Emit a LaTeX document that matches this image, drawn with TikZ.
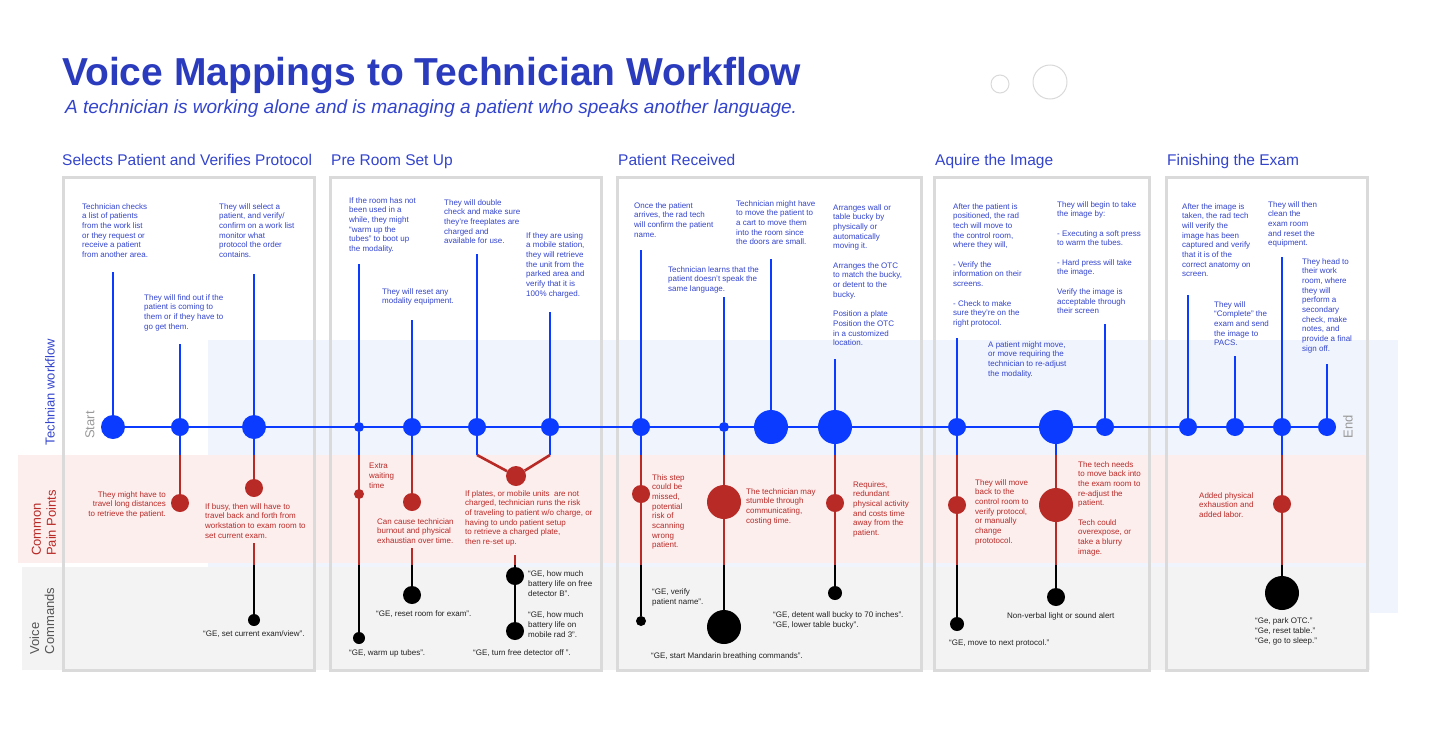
\documentclass[tikz,border=0pt]{standalone}
\usepackage{fontspec}
\setmainfont{Liberation Sans}
\pgfdeclarelayer{bands}
\pgfdeclarelayer{links}
\pgfsetlayers{bands,links,main}
\definecolor{wfblue}{HTML}{0B3BFF}
\definecolor{txtblue}{HTML}{3344CC}
\definecolor{ttlblue}{HTML}{2B3BBD}
\definecolor{painred}{HTML}{B82A26}
\definecolor{bandblue}{HTML}{F0F5FD}
\definecolor{bandpink}{HTML}{FDEEEE}
\definecolor{bandgray}{HTML}{F3F3F3}
\definecolor{boxgray}{HTML}{DADADA}
\definecolor{vgray}{HTML}{222222}
\definecolor{lanegray}{HTML}{555555}
\begin{document}
\begin{tikzpicture}[x=1pt,y=-1pt,
  note/.style={font=\fontsize{8}{9.7}\selectfont, align=left, inner sep=0pt, anchor=north west, text=txtblue},
  pain/.style={note, text=painred},
  voice/.style={note, text=vgray, font=\fontsize{8}{10}\selectfont},
  dotb/.style={circle, fill=wfblue, inner sep=0pt, minimum size=#1},
  dotr/.style={circle, fill=painred, inner sep=0pt, minimum size=#1},
  dotk/.style={circle, fill=black, inner sep=0pt, minimum size=#1},
  wline/.style={draw=wfblue, line width=2.8pt},
  pline/.style={draw=painred, line width=2.6pt},
  kline/.style={draw=black, line width=2.6pt},
  secbox/.style={draw=boxgray, line width=3pt},
  heading/.style={font=\fontsize{15.5}{18}\selectfont, text=txtblue, anchor=base west, inner sep=0pt},
  lane/.style={rotate=90, align=left, font=\fontsize{13}{15}\selectfont, inner sep=0pt},
  endlbl/.style={rotate=90, font=\fontsize{13}{15}\selectfont, text=black!40, inner sep=0pt},
  deco/.style={circle, draw=black!15, line width=1pt, inner sep=0pt, minimum size=#1}]
\useasboundingbox (0,0) rectangle (1440,739);

% ---------- lanes and section frames ----------
\begin{pgfonlayer}{bands}
  \fill[bandblue] (208,340) rectangle (1398,613);
  \fill[bandpink] (18,455) rectangle (1370,563);
  \fill[bandgray] (22,567) rectangle (1370,670);
  \draw[secbox] (63,177) rectangle (314,670);
  \draw[secbox] (330,177) rectangle (601,670);
  \draw[secbox] (617,177) rectangle (921,670);
  \draw[secbox] (934,177) rectangle (1149,670);
  \draw[secbox] (1166,177) rectangle (1367,670);
\end{pgfonlayer}

% ---------- title ----------
\node[anchor=base west, inner sep=0pt, font=\fontsize{39}{41}\selectfont\bfseries, text=ttlblue] (title) at (62,85) {Voice Mappings to Technician Workflow};
\node[anchor=base west, inner sep=0pt, font=\fontsize{19}{22}\selectfont\itshape, text=txtblue] (subtitle) at (65,113) {A technician is working alone and is managing a patient who speaks another language.};
\node[deco=18] (ring1) at (1000,84) {};
\node[deco=34] (ring2) at (1050,82) {};

% ---------- section headings ----------
\node[heading] (h1) at (62,165.5) {Selects Patient and Verifies Protocol};
\node[heading] (h2) at (331,165.5) {Pre Room Set Up};
\node[heading] (h3) at (618,165.5) {Patient Received};
\node[heading] (h4) at (935,165.5) {Aquire the Image};
\node[heading] (h5) at (1167,165.5) {Finishing the Exam};

% ---------- lane labels ----------
\node[lane, text=txtblue] (lwf) at (50,392) {Technian workflow};
\node[lane, text=painred] (lpain) at (44,523) {Common\\Pain Points};
\node[lane, text=lanegray] (lvoice) at (42,621) {Voice\\Commands};
\node[endlbl] (lstart) at (90,425) {Start};
\node[endlbl] (lend) at (1348,427) {End};

% ---------- workflow steps ----------
\node[dotb=24] (t1) at (113,427) {};
\node[dotb=18] (t2) at (180,427) {};
\node[dotb=24] (t3) at (254,427) {};
\node[dotb=10] (t4) at (359,427) {};
\node[dotb=18] (t5) at (412,427) {};
\node[dotb=18] (t6) at (477,427) {};
\node[dotb=18] (t7) at (550,427) {};
\node[dotb=18] (t8) at (641,427) {};
\node[dotb=10] (t9) at (724,427) {};
\node[dotb=34] (t10) at (771,427) {};
\node[dotb=34] (t11) at (835,427) {};
\node[dotb=18] (t12) at (957,427) {};
\node[dotb=34] (t13) at (1056,427) {};
\node[dotb=18] (t14) at (1105,427) {};
\node[dotb=18] (t15) at (1188,427) {};
\node[dotb=18] (t16) at (1235,427) {};
\node[dotb=18] (t17) at (1282,427) {};
\node[dotb=18] (t18) at (1327,427) {};

% stem tops
\coordinate (s1) at (113,272);
\coordinate (s2) at (180,344);
\coordinate (s3) at (254,274);
\coordinate (s4) at (359,264);
\coordinate (s5) at (412,320);
\coordinate (s6) at (477,254);
\coordinate (s7) at (550,312);
\coordinate (s8) at (641,250);
\coordinate (s9) at (724,297);
\coordinate (s10) at (771,259);
\coordinate (s11) at (835,359);
\coordinate (s12) at (957,338);
\coordinate (s14) at (1105,324);
\coordinate (s15) at (1188,295);
\coordinate (s16) at (1235,356);
\coordinate (s17) at (1282,257);
\coordinate (s18) at (1327,364);

% ---------- pain points ----------
\node[dotr=18] (r2) at (180,503) {};
\node[dotr=18] (r3) at (254,488) {};
\node[dotr=10] (r4) at (359,494) {};
\node[dotr=18] (r5) at (412,502) {};
\node[dotr=20] (r6) at (516,476) {};
\node[dotr=18] (r8) at (641,494) {};
\node[dotr=34] (r9) at (724,502) {};
\node[dotr=18] (r11) at (835,503) {};
\node[dotr=18] (r12) at (957,505) {};
\node[dotr=34] (r13) at (1056,505) {};
\node[dotr=18] (r17) at (1282,504) {};

% ---------- voice commands ----------
\node[dotk=12] (v3) at (254,620) {};
\node[dotk=12] (v4) at (359,638) {};
\node[dotk=18] (v5) at (412,595) {};
\node[dotk=18] (v6a) at (515,576) {};
\node[dotk=18] (v6b) at (515,631) {};
\node[dotk=10] (v8) at (641,621) {};
\node[dotk=34] (v9) at (724,627) {};
\node[dotk=14] (v11) at (835,593) {};
\node[dotk=14] (v12) at (957,624) {};
\node[dotk=18] (v13) at (1056,597) {};
\node[dotk=34] (v17) at (1282,593) {};

% lane boundaries on each drop line
\foreach \n/\x in {2/180,3/254,4/359,5/412,6/477,7/550,8/641,9/724,11/835,12/957,13/1056,17/1282}
  \coordinate (j\n) at (\x,455);
\foreach \n/\x in {3/254,4/359,5/412,6/515,8/641,9/724,11/835,12/957,13/1056,17/1282}
  \coordinate (k\n) at (\x,565);
\coordinate (q3) at (254,543);
\coordinate (q5) at (412,548);
\coordinate (q6) at (515,555);

\begin{pgfonlayer}{links}
  \draw[wline] (t1) -- (t18);
  \foreach \n in {1,2,3,4,5,6,7,8,9,10,11,12,14,15,16,17,18}
    \draw[wline] (s\n) -- (t\n);
  \foreach \n in {2,3,4,5,6,7,8,9,11,12,13,17}
    \draw[wline] (t\n) -- (j\n);
  \draw[pline] (j2) -- (r2);
  \draw[pline] (j3) -- (r3);
  \draw[pline] (q3) -- (k3);
  \draw[pline] (j4) -- (k4);
  \draw[pline] (j5) -- (r5);
  \draw[pline] (q5) -- (k5);
  \draw[pline] (j6) -- (r6);
  \draw[pline] (j7) -- (r6);
  \draw[pline] (q6) -- (k6);
  \foreach \n in {8,9,11,12,13,17}
    \draw[pline] (j\n) -- (k\n);
  \draw[kline] (k3) -- (v3);
  \draw[kline] (k4) -- (v4);
  \draw[kline] (k5) -- (v5);
  \draw[kline] (k6) -- (v6a);
  \draw[kline] (v6a) -- (v6b);
  \draw[kline] (k8) -- (v8);
  \draw[kline] (k9) -- (v9);
  \draw[kline] (k11) -- (v11);
  \draw[kline] (k12) -- (v12);
  \draw[kline] (k13) -- (v13);
  \draw[kline] (k17) -- (v17);
\end{pgfonlayer}

% ---------- step descriptions ----------
\node[note] (n1) at (82,203) {Technician checks\\a list of patients\\from the work list\\or they request or\\receive a patient\\from another area.};
\node[note] (n2) at (144,294) {They will find out if the\\patient is coming to\\them or if they have to\\go get them.};
\node[note] (n3) at (219,203) {They will select a\\patient, and verify/\\confirm on a work list\\monitor what\\protocol the order\\contains.};
\node[note] (n4) at (349,197) {If the room has not\\been used in a\\while, they might\\“warm up the\\tubes” to boot up\\the modality.};
\node[note] (n5) at (382,288) {They will reset any\\modality equipment.};
\node[note] (n6) at (444,199) {They will double\\check and make sure\\they’re freeplates are\\charged and\\available for use.};
\node[note] (n7) at (526,232) {If they are using\\a mobile station,\\they will retrieve\\the unit from the\\parked area and\\verify that it is\\100\% charged.};
\node[note] (n8) at (634,202) {Once the patient\\arrives, the rad tech\\will confirm the patient\\name.};
\node[note] (n9) at (668,266) {Technician learns that the\\patient doesn’t speak the\\same language.};
\node[note] (n10) at (736,200) {Technician might have\\to move the patient to\\a cart to move them\\into the room since\\the doors are small.};
\node[note] (n11) at (833,204) {Arranges wall or\\table bucky by\\physically or\\automatically\\moving it.\\[9.7pt]Arranges the OTC\\to match the bucky,\\or detent to the\\bucky.\\[9.7pt]Position a plate\\Position the OTC\\in a customized\\location.};
\node[note] (n12) at (953,203) {After the patient is\\positioned, the rad\\tech will move to\\the control room,\\where they will,\\[9.7pt]- Verify the\\information on their\\screens.\\[9.7pt]- Check to make\\sure they’re on the\\right protocol.};
\node[note] (n13) at (988,341) {A patient might move,\\or move requiring the\\technician to re-adjust\\the modality.};
\node[note] (n14) at (1057,201) {They will begin to take\\the image by:\\[9.7pt]- Executing a soft press\\to warm the tubes.\\[9.7pt]- Hard press will take\\the image.\\[9.7pt]Verify the image is\\acceptable through\\their screen};
\node[note] (n15) at (1182,203) {After the image is\\taken, the rad tech\\will verify the\\image has been\\captured and verify\\that it is of the\\correct anatomy on\\screen.};
\node[note] (n16) at (1214,301) {They will\\“Complete” the\\exam and send\\the image to\\PACS.};
\node[note] (n17) at (1268,201) {They will then\\clean the\\exam room\\and reset the\\equipment.};
\node[note] (n18) at (1302,258) {They head to\\their work\\room, where\\they will\\perform a\\secondary\\check, make\\notes, and\\provide a final\\sign off.};

% ---------- pain point descriptions ----------
\node[pain, anchor=north east, align=right] (p2) at (166,491) {They might have to\\travel long distances\\to retrieve the patient.};
\node[pain] (p3) at (205,503) {If busy, then will have to\\travel back and forth from\\workstation to exam room to\\set current exam.};
\node[pain] (p4) at (369,463) {Extra\\waiting\\time};
\node[pain] (p5) at (377,518) {Can cause technician\\burnout and physical\\exhaustian over time.};
\node[pain] (p6) at (465,490) {If plates, or mobile units\ \ are not\\charged, technician runs the risk\\of traveling to patient w/o charge, or\\having to undo patient setup\\to retrieve a charged plate,\\then re-set up.};
\node[pain] (p8) at (652,474) {This step\\could be\\missed,\\potential\\risk of\\scanning\\wrong\\patient.};
\node[pain] (p9) at (746,488) {The technician may\\stumble through\\communicating,\\costing time.};
\node[pain] (p11) at (853,481) {Requires,\\redundant\\physical activity\\and costs time\\away from the\\patient.};
\node[pain] (p12) at (975,479) {They will move\\back to the\\control room to\\verify protocol,\\or manually\\change\\prototocol.};
\node[pain] (p13) at (1078,461) {The tech needs\\to move back into\\the exam room to\\re-adjust the\\patient.\\[9.7pt]Tech could\\overexpose, or\\take a blurry\\image.};
\node[pain] (p17) at (1199,492) {Added physical\\exhaustion and\\added labor.};

% ---------- voice command texts ----------
\node[voice] (c3) at (203,630) {“GE, set current exam/view”.};
\node[voice] (c4) at (349,649) {“GE, warm up tubes”.};
\node[voice] (c5) at (376,611) {“GE, reset room for exam”.};
\node[voice] (c6a) at (528,570) {“GE, how much\\battery life on free\\detector B”.};
\node[voice] (c6b) at (528,611) {“GE, how much\\battery life on\\mobile rad 3”.};
\node[voice] (c6c) at (473,649) {“GE, turn free detector off ”.};
\node[voice] (c8) at (652,588) {“GE, verify\\patient name”.};
\node[voice] (c9) at (651,652) {“GE, start Mandarin breathing commands”.};
\node[voice] (c11) at (773,611) {“GE, detent wall bucky to 70 inches”.\\“GE, lower table bucky”.};
\node[voice] (c12) at (949,639) {“GE, move to next protocol.”};
\node[voice] (c13) at (1007,612) {Non-verbal light or sound alert};
\node[voice] (c17) at (1255,617) {“Ge, park OTC.”\\“Ge, reset table.”\\“Ge, go to sleep.”};
\end{tikzpicture}
\end{document}
